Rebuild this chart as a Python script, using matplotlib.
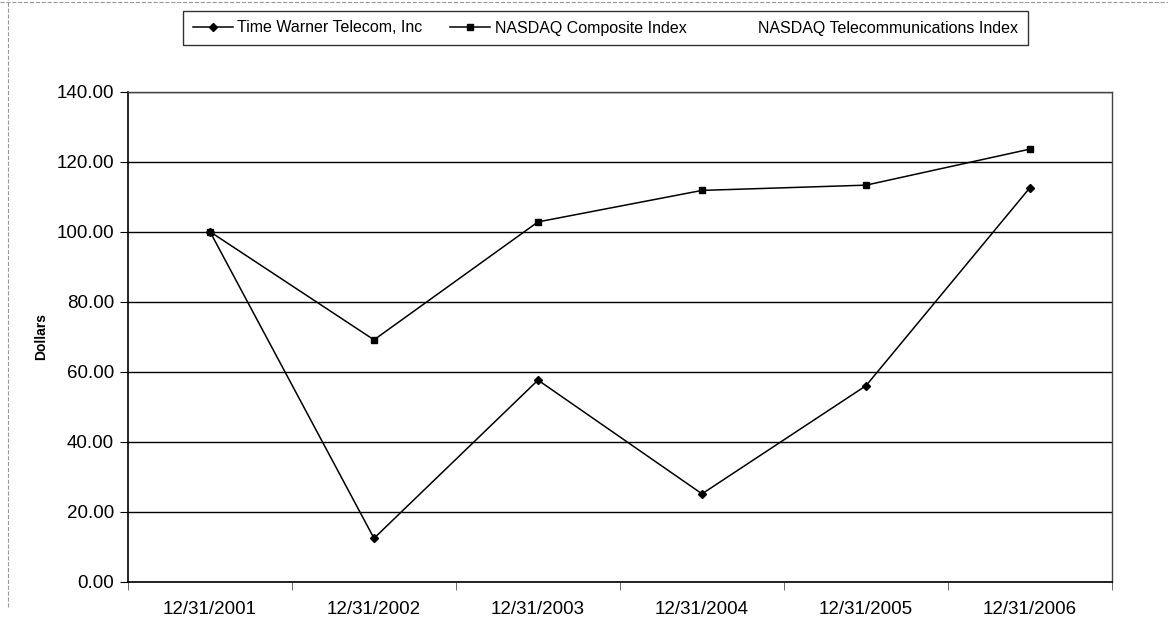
import matplotlib
matplotlib.use("Agg")
import matplotlib.pyplot as plt
from matplotlib.lines import Line2D

plt.rcParams['font.family'] = ['Liberation Sans', 'DejaVu Sans']

categories = ["12/31/2001", "12/31/2002", "12/31/2003", "12/31/2004", "12/31/2005", "12/31/2006"]
twt = [100.0, 12.4, 57.6, 25.1, 56.0, 112.6]
nasdaq = [100.0, 69.1, 102.8, 111.8, 113.3, 123.6]
series_names = ["Time Warner Telecom, Inc", "NASDAQ Composite Index", "NASDAQ Telecommunications Index"]
yticks = [0, 20, 40, 60, 80, 100, 120, 140]

fig = plt.figure(figsize=(11.68, 6.26), dpi=100)
ax = fig.add_axes([128/1168, 1-581.7/626, (1112-128)/1168, (581.7-91.7)/626])

x = list(range(len(categories)))
l1, = ax.plot(x, twt, color='black', lw=1.1, marker='D', ms=4.5, label=series_names[0])
l2, = ax.plot(x, nasdaq, color='black', lw=1.1, marker='s', ms=4.5, label=series_names[1])
l3 = Line2D([], [], color='none', label=series_names[2])

ax.set_xlim(-0.5, len(categories)-0.5)
ax.set_ylim(0, 140)
ax.set_yticks(yticks)
ax.set_yticklabels([f"{v:.2f}" for v in yticks], fontsize=13.5)
ax.set_xticks(x)
ax.set_xticklabels(categories, fontsize=13.5)
ax.tick_params(axis='x', length=0, pad=14)
ax.set_xticks([i-0.5 for i in range(len(categories)+1)], minor=True)
ax.tick_params(axis='x', which='minor', length=6, direction='out', color='#555555')
ax.tick_params(axis='y', length=6, direction='out', pad=4)
ax.yaxis.grid(True, color='black', lw=1)
ax.set_axisbelow(True)
for s in ['top', 'right']:
    ax.spines[s].set_color('#444444')
    ax.spines[s].set_linewidth(1)
ax.spines['left'].set_linewidth(1.2)
ax.spines['bottom'].set_linewidth(1.2)
ax.set_ylabel("Dollars", fontsize=10, fontweight='bold', labelpad=6)

leg = fig.legend(handles=[l1, l2, l3], loc='center', bbox_to_anchor=(605.5/1168, 1-28/626),
                 ncol=3, fontsize=11.5, frameon=True, fancybox=False, edgecolor='black',
                 handlelength=2.5, handletextpad=0.3, columnspacing=1.7, borderpad=0.6,
                 markerscale=0.85)
leg.get_frame().set_linewidth(1)

fig.add_artist(Line2D([0, 1], [1-2/626, 1-2/626], color='#999999', lw=0.8, ls='--'))
fig.add_artist(Line2D([8/1168, 8/1168], [0.03, 1], color='#999999', lw=0.8, ls='--'))

fig.savefig("out.png", dpi=100)
